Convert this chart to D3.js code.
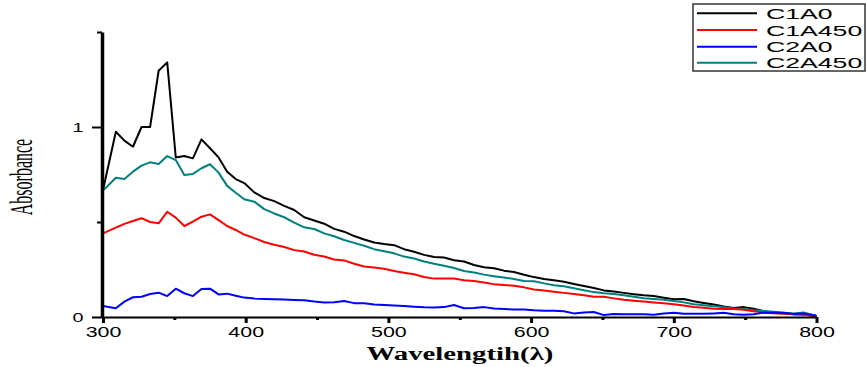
<!DOCTYPE html>
<html>
<head>
<meta charset="utf-8">
<script src="https://cdn.jsdelivr.net/npm/d3@7/dist/d3.min.js"></script>
<style>
  html, body { margin: 0; padding: 0; background: #fff; }
  svg { display: block; }
</style>
</head>
<body>
<svg id="chart" width="866" height="367"></svg>
<script>
const wavelengths = [300,309,315,321,327,333,339,345,351,357,363,369,375,381,387,393,399,
  406,413,420,427,434,441,448,455,462,469,476,483,490,497,504,511,518,525,532,539,546,553,560,
  567,574,581,588,595,602,609,616,623,630,637,644,651,658,665,672,679,686,693,700,707,714,721,
  728,735,742,749,756,763,770,777,784,791,800];

const c1a0 = [0.668,0.975,0.928,0.896,1.0,1.0,1.296,1.34,0.84,0.847,0.835,0.935,0.888,0.84,0.765,0.726,0.705,
  0.656,0.626,0.610,0.585,0.563,0.525,0.508,0.491,0.464,0.449,0.426,0.408,0.392,0.384,0.378,0.357,0.343,0.327,0.316,0.313,0.299,0.292,0.274,
  0.262,0.257,0.244,0.237,0.222,0.210,0.200,0.194,0.186,0.174,0.163,0.153,0.140,0.134,0.127,0.120,0.114,0.110,0.101,0.093,0.095,0.083,0.074,
  0.066,0.055,0.047,0.052,0.043,0.030,0.021,0.018,0.015,0.013,0.005];

const c1a450 = [0.44,0.47,0.49,0.505,0.52,0.50,0.493,0.554,0.523,0.479,0.502,0.528,0.54,0.51,0.479,0.458,0.434,
  0.415,0.395,0.38,0.368,0.352,0.345,0.328,0.318,0.303,0.298,0.28,0.266,0.26,0.254,0.242,0.233,0.225,0.211,0.202,0.202,0.203,0.194,0.189,
  0.181,0.173,0.169,0.164,0.156,0.145,0.139,0.133,0.127,0.121,0.114,0.106,0.106,0.098,0.091,0.086,0.081,0.076,0.072,0.067,0.060,0.053,0.049,
  0.044,0.042,0.042,0.038,0.030,0.023,0.020,0.018,0.014,0.012,0.002];

const c2a0 = [0.058,0.046,0.081,0.104,0.107,0.121,0.128,0.11,0.149,0.125,0.11,0.147,0.149,0.119,0.123,0.112,0.102,
  0.097,0.095,0.093,0.092,0.090,0.088,0.081,0.076,0.078,0.084,0.073,0.072,0.066,0.063,0.061,0.058,0.054,0.051,0.050,0.052,0.063,0.046,0.047,
  0.052,0.045,0.042,0.040,0.039,0.035,0.033,0.033,0.030,0.019,0.024,0.026,0.010,0.016,0.014,0.015,0.014,0.012,0.019,0.022,0.017,0.017,0.017,
  0.019,0.022,0.015,0.012,0.014,0.023,0.023,0.022,0.016,0.019,0.007];

const c2a450 = [0.665,0.733,0.726,0.765,0.797,0.814,0.805,0.847,0.826,0.747,0.753,0.783,0.804,0.76,0.69,0.654,0.620,
  0.607,0.568,0.545,0.525,0.497,0.472,0.463,0.440,0.425,0.405,0.390,0.375,0.357,0.346,0.335,0.318,0.308,0.292,0.280,0.270,0.258,0.242,0.234,
  0.223,0.215,0.208,0.200,0.190,0.188,0.177,0.167,0.162,0.151,0.141,0.131,0.125,0.121,0.114,0.107,0.099,0.095,0.091,0.084,0.077,0.067,0.062,
  0.057,0.051,0.045,0.042,0.036,0.032,0.027,0.023,0.019,0.024,0.005];

const seriesNames = ["C1A0","C1A450","C2A0","C2A450"];
const seriesColors = ["#000000","#ff0000","#0000ff","#008080"];
const seriesValues = [c1a0, c1a450, c2a0, c2a450];

const xMajorTicks = [300,400,500,600,700,800];
const xMinorTicks = [350,450,550,650,750];
const yMajorTicks = [0,1];
const yMinorTicks = [0.5,1.5];

const svg = d3.select("#chart");
const x = d3.scaleLinear().domain([300,800]).range([103,816.5]);
const y = d3.scaleLinear().domain([0,1.5]).range([317,32]);

// lines
const line = d3.line().x((d,i)=>x(wavelengths[i])).y(d=>y(d));
const drawOrder = [0,3,1,2];
drawOrder.forEach(k=>{
  svg.append("path").datum(seriesValues[k])
    .attr("d", line).attr("fill","none")
    .attr("stroke", seriesColors[k]).attr("stroke-width",2)
    .attr("stroke-linejoin","round");
});

// x axis
const xAxisG = svg.append("g").attr("transform",`translate(0,${y(0)})`);
xAxisG.call(d3.axisBottom(x).tickValues(xMajorTicks).tickSize(6).tickSizeOuter(0).tickFormat(d3.format("d")));
xAxisG.select(".domain").attr("stroke","#000").attr("stroke-width",2);
xAxisG.selectAll(".tick line").attr("stroke","#000").attr("stroke-width",3);
xAxisG.selectAll(".tick text")
  .attr("x",0).attr("y",0).attr("dy",null)
  .attr("transform","translate(0,20) scale(1.53,1)")
  .attr("text-anchor","middle")
  .style("font-family","'Liberation Sans', Arial, sans-serif")
  .style("font-size","14px").attr("fill","#000");
const xMinorG = svg.append("g").attr("transform",`translate(0,${y(0)})`);
xMinorG.call(d3.axisBottom(x).tickValues(xMinorTicks).tickSize(3).tickSizeOuter(0).tickFormat(""));
xMinorG.select(".domain").remove();
xMinorG.selectAll(".tick line").attr("stroke","#000").attr("stroke-width",3);

// y axis
const yAxisG = svg.append("g").attr("transform",`translate(102,0)`);
yAxisG.call(d3.axisLeft(y).tickValues(yMajorTicks).tickSize(10).tickSizeOuter(0).tickFormat(d3.format("d")));
yAxisG.select(".domain").attr("stroke","#000").attr("stroke-width",3.5);
yAxisG.selectAll(".tick line").attr("stroke","#000").attr("stroke-width",2);
yAxisG.selectAll(".tick text")
  .attr("x",0).attr("y",0).attr("dy",null)
  .attr("transform","translate(-24,4.2) scale(1.65,1)")
  .attr("text-anchor","middle")
  .style("font-family","'Liberation Sans', Arial, sans-serif")
  .style("font-size","12px").attr("fill","#000");
const yMinorG = svg.append("g").attr("transform",`translate(102,0)`);
yMinorG.call(d3.axisLeft(y).tickValues(yMinorTicks).tickSize(5).tickSizeOuter(0).tickFormat(""));
yMinorG.select(".domain").remove();
yMinorG.selectAll(".tick line").attr("stroke","#000").attr("stroke-width",2);

// axis titles
svg.append("text")
  .attr("transform","translate(460,360) scale(1.6,1)")
  .attr("text-anchor","middle")
  .style("font-family","'Liberation Serif','Times New Roman',serif")
  .style("font-weight","bold").style("font-size","18px")
  .text("Wavelengtih(λ)");

svg.append("text")
  .attr("transform","translate(32,177) scale(2,1) rotate(-90)")
  .attr("text-anchor","middle")
  .style("font-family","'Liberation Serif','Times New Roman',serif")
  .style("font-size","16px")
  .text("Absorbance");

// legend
const lg = svg.append("g");
lg.append("rect").attr("x",693).attr("y",4).attr("width",172).attr("height",67)
  .attr("fill","#fff").attr("stroke","#333").attr("stroke-width",1.5);
const rowY = [13.3,30,46.7,62.7];
seriesNames.forEach((n,i)=>{
  lg.append("line").attr("x1",697).attr("x2",757).attr("y1",rowY[i]).attr("y2",rowY[i])
    .attr("stroke",seriesColors[i]).attr("stroke-width",2);
  lg.append("text")
    .attr("transform",`translate(766,${rowY[i]+5.5}) scale(1.73,1)`)
    .style("font-family","'Liberation Sans', Arial, sans-serif")
    .style("font-size","15.4px")
    .text(n);
});
</script>
</body>
</html>
